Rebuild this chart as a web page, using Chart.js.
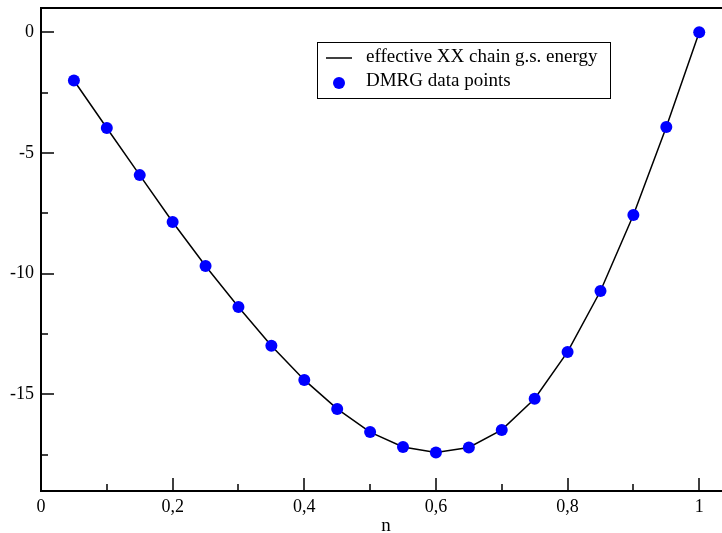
<!DOCTYPE html>
<html><head><meta charset="utf-8">
<script src="https://cdn.jsdelivr.net/npm/chart.js@4"></script>
<style>html,body{margin:0;padding:0;background:#fff;overflow:hidden}#wrap{width:722px;height:533px}</style>
</head><body><div id="wrap"><canvas id="c" width="722" height="533"></canvas></div>
<script>
const densities = [0.05,0.1,0.15,0.2,0.25,0.3,0.35,0.4,0.45,0.5,0.55,0.6,0.65,0.7,0.75,0.8,0.85,0.9,0.95,1.0];
const dmrgEnergy = [-2.0,-3.97,-5.92,-7.86,-9.68,-11.38,-12.99,-14.40,-15.60,-16.56,-17.18,-17.41,-17.20,-16.47,-15.18,-13.24,-10.72,-7.57,-3.93,0.0];
const effectiveEnergy = [-2.0,-3.97,-5.92,-7.86,-9.68,-11.38,-12.99,-14.40,-15.60,-16.56,-17.18,-17.41,-17.20,-16.47,-15.18,-13.24,-10.72,-7.57,-3.93,0.0];
const xMajorTicks = [0,0.2,0.4,0.6,0.8,1.0];
const xMinorTicks = [0.1,0.3,0.5,0.7,0.9];
const yMajorTicks = [0,-5,-10,-15];
const yMinorTicks = [-2.5,-7.5,-12.5,-17.5];
const legendLabels = ['effective XX chain g.s. energy','DMRG data points'];
const xAxisTitle = 'n';

const FONT = '"Liberation Serif", "DejaVu Serif", serif';

const framePlugin = {
  id: 'frame',
  afterDraw(chart) {
    const ctx = chart.ctx, a = chart.chartArea;
    const xs = chart.scales.x, ys = chart.scales.y;
    ctx.save();
    ctx.strokeStyle = '#000';
    ctx.lineWidth = 2;
    ctx.beginPath();
    ctx.moveTo(chart.width + 5, a.top); ctx.lineTo(a.left, a.top);
    ctx.lineTo(a.left, a.bottom); ctx.lineTo(chart.width + 5, a.bottom);
    ctx.stroke();
    ctx.lineWidth = 1.5;
    ctx.beginPath();
    xMajorTicks.forEach(v => { const p = Math.round(xs.getPixelForValue(v)); ctx.moveTo(p, a.bottom); ctx.lineTo(p, a.bottom - 13); });
    xMinorTicks.forEach(v => { const p = Math.round(xs.getPixelForValue(v)); ctx.moveTo(p, a.bottom); ctx.lineTo(p, a.bottom - 7); });
    yMajorTicks.forEach(v => { const p = Math.round(ys.getPixelForValue(v)); ctx.moveTo(a.left, p); ctx.lineTo(a.left + 13, p); });
    yMinorTicks.forEach(v => { const p = Math.round(ys.getPixelForValue(v)); ctx.moveTo(a.left, p); ctx.lineTo(a.left + 7, p); });
    ctx.stroke();
    // axis title
    ctx.fillStyle = '#000';
    ctx.font = '19px ' + FONT;
    ctx.textAlign = 'center';
    ctx.textBaseline = 'alphabetic';
    ctx.fillText(xAxisTitle, (xs.getPixelForValue(0) + xs.getPixelForValue(1)) / 2 + 16, 531);
    // legend
    const lx = 317, ly = 42, lw = 293, lh = 56;
    ctx.lineWidth = 1;
    ctx.strokeStyle = '#000';
    ctx.fillStyle = '#fff';
    ctx.fillRect(lx, ly, lw, lh);
    ctx.strokeRect(lx + 0.5, ly + 0.5, lw, lh);
    ctx.lineWidth = 1.5;
    ctx.beginPath(); ctx.moveTo(326, 58); ctx.lineTo(352, 58); ctx.stroke();
    ctx.fillStyle = '#0000ff';
    ctx.beginPath(); ctx.arc(339, 83, 6, 0, Math.PI * 2); ctx.fill();
    ctx.fillStyle = '#000';
    ctx.font = '19px ' + FONT;
    ctx.textBaseline = 'middle';
    ctx.textAlign = 'left';
    ctx.fillText(legendLabels[0], 366, 57);
    ctx.fillText(legendLabels[1], 366, 81);
    ctx.restore();
  }
};

new Chart(document.getElementById('c'), {
  type: 'scatter',
  data: {
    datasets: [
      { label: legendLabels[1], data: densities.map((x, i) => ({x, y: dmrgEnergy[i]})),
        backgroundColor: '#0000ff', borderColor: '#0000ff', pointRadius: 6, pointBorderWidth: 0, showLine: false, order: 0 },
      { label: legendLabels[0], data: densities.map((x, i) => ({x, y: effectiveEnergy[i]})),
        borderColor: '#000', borderWidth: 1.5, pointRadius: 0, showLine: true, tension: 0, order: 1 }
    ]
  },
  options: {
    responsive: false, animation: false,
    layout: { padding: { top: 8, right: 0, left: 0, bottom: 0 } },
    plugins: { legend: { display: false }, tooltip: { enabled: false } },
    scales: {
      x: {
        type: 'linear', min: 0, max: 1.0255,
        grid: { display: false, drawTicks: false }, border: { display: false },
        afterBuildTicks: s => { s.ticks = xMajorTicks.map(v => ({value: v})); },
        afterFit: s => { s.height = 42; s.paddingLeft = 0; s.paddingRight = 0; },
        ticks: { color: '#000', font: { family: FONT, size: 18 }, padding: 5,
          maxRotation: 0, autoSkip: false,
          callback: v => String(v).replace('.', ',') },
        title: { display: false }
      },
      y: {
        type: 'linear', min: -19, max: 1,
        grid: { display: false, drawTicks: false }, border: { display: false },
        afterBuildTicks: s => { s.ticks = yMajorTicks.map(v => ({value: v})); },
        afterFit: s => { s.width = 41; s.paddingTop = 0; s.paddingBottom = 0; },
        ticks: { color: '#000', font: { family: FONT, size: 18 }, padding: 7, autoSkip: false,
          callback: v => String(v) }
      }
    }
  },
  plugins: [framePlugin]
});
</script></body></html>
